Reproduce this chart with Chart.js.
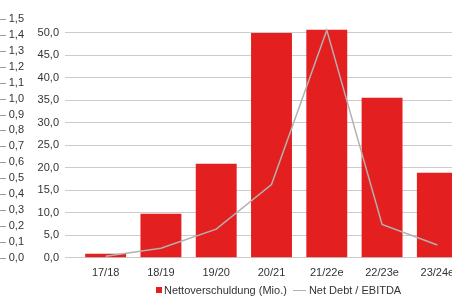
<!DOCTYPE html>
<html lang="de">
<head>
    <meta charset="UTF-8" />
    <title>Nettoverschuldung</title>
    <script src="https://cdn.jsdelivr.net/npm/chart.js"></script>
    <style>
        html, body { margin: 0; padding: 0; background: #fff; overflow: hidden; }
        #wrap { position: relative; width: 470px; height: 296px; }
        #legend {
            position: absolute; left: 156px; top: 284px;
            font: 11px "Liberation Sans", Arial, sans-serif; color: #333;
            display: flex; align-items: center; white-space: nowrap;
        }
        .box { display: inline-block; width: 6px; height: 6px; background: #e41f1f; margin-right: 2px; }
        .ln { display: inline-block; width: 13px; height: 0; border-top: 1.5px solid #b3b0b0; margin: 0 3px 0 6px; }
    </style>
</head>
<body>
    <div id="wrap">
        <canvas id="chart" width="470" height="296"></canvas>
        <div id="legend">
            <span class="box"></span><span>Nettoverschuldung (Mio.)</span>
            <span class="ln"></span><span>Net Debt / EBITDA</span>
        </div>
    </div>

    <script>
        const categories = ["17/18", "18/19", "19/20", "20/21", "21/22e", "22/23e", "23/24e"];
        const netDebt = [0.9, 9.8, 20.9, 50.0, 50.7, 35.6, 18.9];
        const debtRatio = [0.01, 0.06, 0.18, 0.46, 1.43, 0.21, 0.08];

        const fontStyle = { family: "'Liberation Sans', Arial, sans-serif", size: 11 };
        const fmt = v => Number(v).toFixed(1).replace(".", ",");

        // small dashes to the left of the ratio axis labels
        const ratioDashes = {
            id: "ratioDashes",
            afterDraw(chart) {
                const s = chart.scales.y1;
                const ctx = chart.ctx;
                ctx.save();
                ctx.strokeStyle = "#9a9a9a";
                ctx.lineWidth = 1;
                s.ticks.forEach((t, i) => {
                    const y = Math.round(s.getPixelForTick(i)) + 0.5;
                    ctx.beginPath();
                    ctx.moveTo(0, y);
                    ctx.lineTo(6, y);
                    ctx.stroke();
                });
                ctx.restore();
            }
        };

        new Chart(document.getElementById("chart"), {
            type: "bar",
            data: {
                labels: categories,
                datasets: [
                    {
                        type: "line",
                        label: "Net Debt / EBITDA",
                        data: debtRatio,
                        yAxisID: "y1",
                        borderColor: "#b3b0b0",
                        borderWidth: 1.5,
                        pointRadius: 0,
                        tension: 0,
                        order: 0
                    },
                    {
                        label: "Nettoverschuldung (Mio.)",
                        data: netDebt,
                        yAxisID: "y",
                        backgroundColor: "#e41f1f",
                        categoryPercentage: 1,
                        barPercentage: 0.74,
                        order: 1
                    }
                ]
            },
            options: {
                responsive: false,
                animation: false,
                layout: { padding: { top: 19, right: 5, bottom: 7, left: 0 } },
                plugins: { legend: { display: false }, tooltip: { enabled: false } },
                scales: {
                    x: {
                        grid: { display: false, drawTicks: false },
                        border: { display: false },
                        ticks: { color: "#333", font: fontStyle, padding: 9, maxRotation: 0 }
                    },
                    y: {
                        position: "left",
                        weight: 0,
                        min: 0,
                        max: 53.1,
                        afterFit(s) { s.width = 49; },
                        grid: { color: "#cccccc", lineWidth: 1, tickLength: 13 },
                        border: { display: false },
                        ticks: { stepSize: 5, includeBounds: false, autoSkip: false, color: "#333", font: fontStyle, padding: 6, callback: fmt }
                    },
                    y1: {
                        position: "left",
                        weight: 1,
                        min: 0,
                        max: 1.5,
                        afterFit(s) { s.width = 29; },
                        grid: { display: false, drawTicks: false },
                        border: { display: false },
                        ticks: { stepSize: 0.1, autoSkip: false, color: "#333", font: fontStyle, padding: 5, callback: fmt }
                    }
                }
            },
            plugins: [ratioDashes]
        });
    </script>
</body>
</html>
